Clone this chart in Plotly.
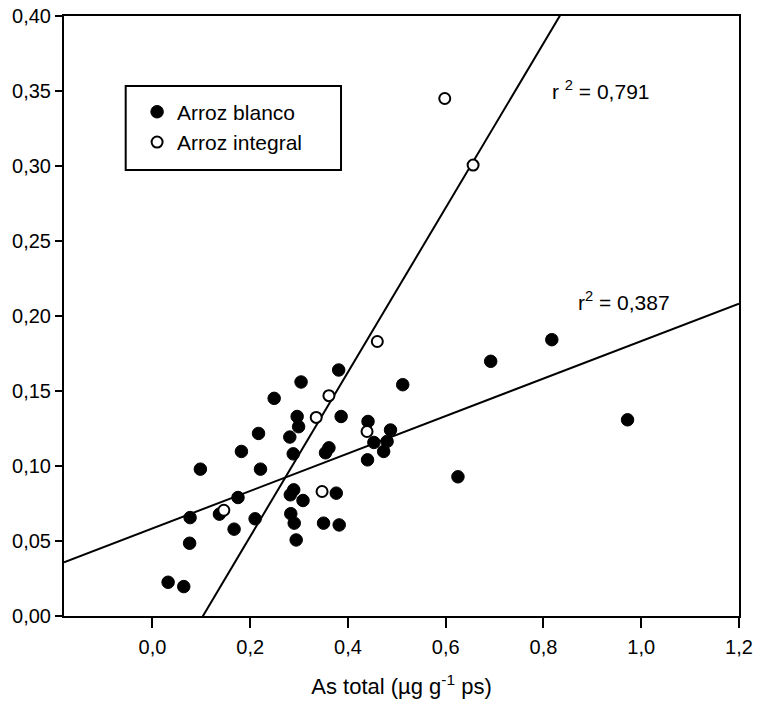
import plotly.graph_objects as go

# Arroz blanco (filled)
blanco_x = [0.032, 0.064, 0.076, 0.077, 0.098, 0.137, 0.167, 0.175, 0.182, 0.210,
            0.217, 0.221, 0.249, 0.281, 0.288, 0.283, 0.290, 0.294, 0.282, 0.289,
            0.308, 0.296, 0.299, 0.304, 0.350, 0.354, 0.361, 0.376, 0.382, 0.381,
            0.386, 0.441, 0.440, 0.453, 0.473, 0.480, 0.487, 0.512, 0.692, 0.817,
            0.972, 0.625]
blanco_y = [0.0225, 0.0196, 0.0485, 0.0656, 0.0979, 0.0679, 0.0579, 0.0790, 0.1097, 0.0648,
            0.1217, 0.0979, 0.1451, 0.1193, 0.1081, 0.0682, 0.0619, 0.0507, 0.0808, 0.0841,
            0.0770, 0.1330, 0.1262, 0.1560, 0.0619, 0.1088, 0.1121, 0.0819, 0.0607, 0.1640,
            0.1330, 0.1297, 0.1041, 0.1157, 0.1097, 0.1164, 0.1240, 0.1542, 0.1698, 0.1842,
            0.1308, 0.0928]

# Arroz integral (open)
integral_x = [0.146, 0.335, 0.361, 0.347, 0.439, 0.460, 0.598, 0.656]
integral_y = [0.0705, 0.1324, 0.1469, 0.0830, 0.1230, 0.1830, 0.3450, 0.3006]

# regression fits
fit_blanco = (0.1249, 0.0584)     # slope, intercept
fit_integral = (0.548, -0.0566)

x_range = [-0.181, 1.2]
y_range = [0.0, 0.40]

x_ticks = [0.0, 0.2, 0.4, 0.6, 0.8, 1.0, 1.2]
x_ticklabels = ["0,0", "0,2", "0,4", "0,6", "0,8", "1,0", "1,2"]
y_ticks = [0.0, 0.05, 0.10, 0.15, 0.20, 0.25, 0.30, 0.35, 0.40]
y_ticklabels = ["0,00", "0,05", "0,10", "0,15", "0,20", "0,25", "0,30", "0,35", "0,40"]

FONT = "Liberation Sans, Arial, sans-serif"

fig = go.Figure()

def line_pts(fit):
    m, b = fit
    xs = [x_range[0], x_range[1]]
    return xs, [m * v + b for v in xs]

lx, ly = line_pts(fit_blanco)
fig.add_trace(go.Scatter(x=lx, y=ly, mode="lines", line=dict(color="black", width=2),
                         showlegend=False, hoverinfo="skip"))
lx, ly = line_pts(fit_integral)
fig.add_trace(go.Scatter(x=lx, y=ly, mode="lines", line=dict(color="black", width=2),
                         showlegend=False, hoverinfo="skip"))

fig.add_trace(go.Scatter(x=blanco_x, y=blanco_y, mode="markers", name="Arroz blanco",
                         legendgroup="a",
                         marker=dict(symbol="circle", size=12.5, color="black",
                                     line=dict(color="black", width=1))))
fig.add_trace(go.Scatter(x=integral_x, y=integral_y, mode="markers", name="Arroz integral",
                         legendgroup="b",
                         marker=dict(symbol="circle", size=11, color="white",
                                     line=dict(color="black", width=2))))

fig.add_annotation(x=0.8124, y=0.351, xref="x", yref="y", xanchor="left", yanchor="middle",
                   text="r <sup>2</sup> = 0,791", showarrow=False,
                   font=dict(family=FONT, size=21, color="black"))
fig.add_annotation(x=0.8663, y=0.2098, xref="x", yref="y", xanchor="left", yanchor="middle",
                   text="r<sup>2</sup> = 0,387", showarrow=False,
                   font=dict(family=FONT, size=21, color="black"))

# legend frame
fig.add_shape(type="rect", xref="paper", yref="paper", x0=0.0914, x1=0.4104,
              y0=0.7433, y1=0.8833, line=dict(color="black", width=2), fillcolor="white",
              layer="below")

fig.update_layout(
    width=761, height=708,
    margin=dict(l=64, r=22, t=16, b=92),
    paper_bgcolor="white", plot_bgcolor="rgba(0,0,0,0)",
    font=dict(family=FONT, size=20, color="black"),
    showlegend=True,
    legend=dict(x=0.1083, y=0.874, xanchor="left", yanchor="top",
                bgcolor="rgba(0,0,0,0)", borderwidth=0,
                font=dict(family=FONT, size=21, color="black"),
                tracegroupgap=0, traceorder="grouped"),
    xaxis=dict(range=x_range, tickvals=x_ticks, ticktext=x_ticklabels,
               showgrid=False, zeroline=False, showline=True, linecolor="black",
               linewidth=2, mirror=True, ticks="outside", ticklen=10, tickwidth=2,
               tickcolor="black", ticklabelstandoff=2, automargin=False,
               tickfont=dict(family=FONT, size=20),
               title=dict(text="As total (µg g<sup>-1</sup> ps)", standoff=22,
                          font=dict(family=FONT, size=22))),
    yaxis=dict(range=y_range, tickvals=y_ticks, ticktext=y_ticklabels,
               showgrid=False, zeroline=False, showline=True, linecolor="black",
               linewidth=2, mirror=True, ticks="outside", ticklen=7, tickwidth=2,
               tickcolor="black", automargin=False, tickfont=dict(family=FONT, size=20)),
)

fig.write_html("out.html", config={"displayModeBar": False},
               post_script="document.body.style.margin='0';document.body.style.padding='0';")
